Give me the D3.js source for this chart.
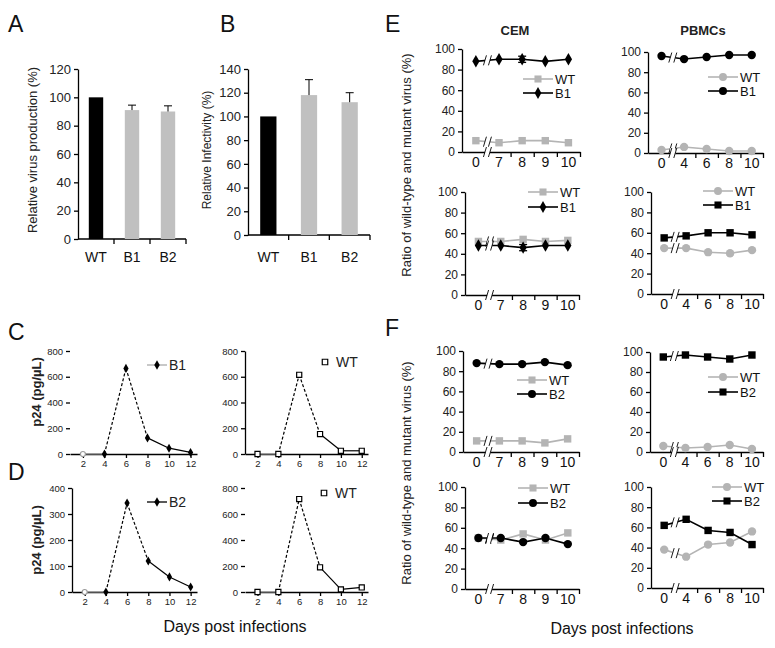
<!DOCTYPE html>
<html>
<head>
<meta charset="utf-8">
<script src="https://cdn.jsdelivr.net/npm/d3@7"></script>
<style>
  body { margin: 0; background: #fff; }
  svg { font-family: "Liberation Sans", Arial, sans-serif; }
</style>
</head>
<body>
<svg id="chart" width="775" height="648"></svg>
<script>
// A / B: Balkendiagramme
const barCats = ["WT", "B1", "B2"];
const prodValues = [100, 91, 90];
const prodErrors = [0, 3.5, 4];
const infValues = [100, 118, 112];
const infErrors = [0, 13, 8];

// C / D: p24-Kinetik
const p24Days = [2, 4, 6, 8, 10, 12];
const p24B1 = [0, 0, 665, 125, 45, 12];
const p24WTc = [0, 0, 615, 155, 25, 25];
const p24B2 = [0, 0, 342, 119, 58, 19];
const p24WTd = [0, 0, 715, 190, 20, 35];

// E / F: Anteil Wildtyp / Mutante
const cemDays = ["0", "7", "8", "9", "10"];
const pbmcDays = ["0", "4", "6", "8", "10"];
const eCemWT = [11, 9, 11, 11, 9];
const eCemB1 = [88, 90, 90, 88, 90];
const eCemB1Err = [0, 0, 3, 0, 0];
const ePbmcWT = [3, 6, 4, 2, 2];
const ePbmcB1 = [96, 93, 95, 97, 97];
const eCemWT2 = [52, 52, 54, 52, 53];
const eCemB1b = [48, 48, 46, 48, 48];
const eCemB1bErr = [0, 0, 3, 0, 0];
const ePbmcWT2 = [45, 45, 41, 40, 43];
const ePbmcB1b = [55, 57, 60, 60, 58];
const fCemWT = [11, 11, 11, 9, 13];
const fCemB2 = [88, 87, 87, 89, 86];
const fPbmcWT = [6, 4, 5, 7, 3];
const fPbmcB2 = [95, 97, 95, 93, 97];
const fCemWT2 = [50, 48, 54, 48, 55];
const fCemB2b = [50, 50, 46, 50, 44];
const fPbmcWT2 = [38, 31, 43, 45, 56];
const fPbmcB2b = [62, 68, 57, 55, 43];

const FONT = '"Liberation Sans", Arial, sans-serif';
const GREY = "#b4b4b4";
const svg = d3.select("#chart");

function text(g, t, x, y, size, opts = {}) {
  const el = g.append("text").attr("x", x).attr("y", y)
    .attr("font-size", size).attr("fill", opts.fill || "#111")
    .attr("text-anchor", opts.anchor || "start")
    .attr("font-weight", opts.bold ? "bold" : "normal").text(t);
  if (opts.rotate) el.attr("transform", `rotate(-90,${x},${y})`);
  return el;
}

function yAxis(g, x0, scale, vals, fs, withLine) {
  const a = g.append("g").attr("transform", `translate(${x0},0)`)
    .call(d3.axisLeft(scale).tickValues(vals).tickSize(4).tickSizeOuter(0).tickPadding(3));
  a.attr("font-family", FONT).attr("font-size", fs);
  a.selectAll(".tick text").attr("fill", "#222");
  a.selectAll("line,path").attr("stroke-width", 1.3);
  if (!withLine) a.select(".domain").remove();
  return a;
}

function marker(g, type, x, y, size, fill, stroke) {
  g.append("path").attr("transform", `translate(${x},${y})`)
    .attr("d", d3.symbol().type(type).size(size)())
    .attr("fill", fill).attr("stroke", stroke || "none").attr("stroke-width", 1.2);
}

// Balkenpanel (A, B)
function barPanel(o) {
  const g = svg.append("g");
  const x = d3.scaleBand().domain(barCats).range([o.x0, o.x1]).paddingInner(0.6).paddingOuter(0.3);
  const y = d3.scaleLinear().domain([0, o.max]).range([o.yBase, o.yTop]);
  yAxis(g, o.x0, y, d3.range(0, o.max + 1, 20), 13, true);

  g.append("line").attr("x1", o.x0).attr("x2", o.x1).attr("y1", o.yBase).attr("y2", o.yBase)
    .attr("stroke", "#000").attr("stroke-width", 1.3);
  g.selectAll("line.xt").data(barCats).join("line").attr("class", "xt")
    .attr("x1", d => x(d) + x.bandwidth() + x.step() * x.paddingInner() / 2)
    .attr("x2", d => x(d) + x.bandwidth() + x.step() * x.paddingInner() / 2)
    .attr("y1", o.yBase).attr("y2", o.yBase + 5).attr("stroke", "#000").attr("stroke-width", 1.3);

  g.selectAll("rect.bar").data(barCats).join("rect").attr("class", "bar")
    .attr("x", d => x(d)).attr("width", x.bandwidth())
    .attr("y", (d, i) => y(o.values[i])).attr("height", (d, i) => o.yBase - y(o.values[i]))
    .attr("fill", (d, i) => i === 0 ? "#000" : "#c0c0c0");

  barCats.forEach((c, i) => {
    if (!o.errors[i]) return;
    const cx = x(c) + x.bandwidth() / 2;
    g.append("line").attr("x1", cx).attr("x2", cx)
      .attr("y1", y(o.values[i])).attr("y2", y(o.values[i] + o.errors[i])).attr("stroke", "#000");
    g.append("line").attr("x1", cx - 4).attr("x2", cx + 4)
      .attr("y1", y(o.values[i] + o.errors[i])).attr("y2", y(o.values[i] + o.errors[i])).attr("stroke", "#000");
  });

  g.selectAll("text.cat").data(barCats).join("text").attr("class", "cat")
    .attr("x", d => x(d) + x.bandwidth() / 2).attr("y", o.labelY)
    .attr("text-anchor", "middle").attr("font-size", 14).attr("fill", "#111").text(d => d);

  text(g, o.title, o.titleX, o.titleY, o.titleSize, { anchor: "middle", rotate: true, fill: "#222" });
}

// p24-Panel (C, D)
function p24Panel(o) {
  const g = svg.append("g");
  const x = d3.scaleLinear().domain([0.8, 12.6]).range([o.x0, o.x1]);
  const y = d3.scaleLinear().domain([0, o.max]).range([o.yBase, o.yTop]);
  yAxis(g, o.x0, y, d3.range(0, o.max + 1, o.max / 4), 9.5, o.yLine);

  const xa = g.append("g").attr("transform", `translate(0,${o.yBase})`)
    .call(d3.axisBottom(x).tickValues(p24Days).tickSize(4).tickSizeOuter(0).tickPadding(2));
  xa.attr("font-family", FONT).attr("font-size", 9.5);
  xa.selectAll(".tick text").attr("fill", "#222");
  xa.selectAll("line,path").attr("stroke-width", 1.3);

  const pts = p24Days.map((d, i) => [x(d), y(o.values[i]), d]);
  for (let i = 0; i < pts.length - 1; i++) {
    const dashed = pts[i][2] >= 4 && pts[i + 1][2] <= 8;
    g.append("line").attr("x1", pts[i][0]).attr("y1", pts[i][1])
      .attr("x2", pts[i + 1][0]).attr("y2", pts[i + 1][1])
      .attr("stroke", i === 0 ? "#888" : "#000").attr("stroke-width", 1.2)
      .attr("stroke-dasharray", dashed ? "3,2" : null);
  }
  pts.forEach((p, i) => {
    if (o.open) marker(g, d3.symbolSquare, p[0], p[1], 26, "#fff", "#000");
    else if (i === 0) marker(g, d3.symbolCircle, p[0], p[1], 20, "#fff", "#999");
    else marker(g, d3.symbolDiamond, p[0], p[1], 24, "#000");
  });

  const L = o.legend;
  if (o.open) {
    marker(g, d3.symbolSquare, L.x, L.y, 30, "#fff", "#000");
    text(g, o.name, L.x + 11, L.y + 5, 14, { fill: "#222" });
  } else {
    g.append("line").attr("x1", L.x - 10).attr("x2", L.x + 10).attr("y1", L.y).attr("y2", L.y)
      .attr("stroke", o.name === "B1" ? "#aaa" : "#000").attr("stroke-width", 1.3);
    marker(g, d3.symbolDiamond, L.x, L.y, 26, "#000");
    text(g, o.name, L.x + 12, L.y + 5, 14, { fill: "#222" });
  }
}

function breakMark(g, x, y) {
  g.append("rect").attr("x", x - 2.5).attr("y", y - 5).attr("width", 5).attr("height", 10).attr("fill", "#fff");
  [-2.5, 2.5].forEach(dx => g.append("line")
    .attr("x1", x + dx - 1.5).attr("y1", y + 5).attr("x2", x + dx + 1.5).attr("y2", y - 5)
    .attr("stroke", "#000").attr("stroke-width", 0.9));
}

// Verhältnis-Panel (E, F)
function ratioPanel(o) {
  const g = svg.append("g");
  const x = d3.scaleLinear().domain([-0.6, 4.5]).range([o.x0, o.x1]);
  const y = d3.scaleLinear().domain([0, 100]).range([o.yBase, o.yTop]);
  yAxis(g, o.x0, y, [0, 20, 40, 60, 80, 100], 12, true);

  const xa = g.append("g").attr("transform", `translate(0,${o.yBase})`)
    .call(d3.axisBottom(x).tickValues([0.5, 1.5, 2.5, 3.5, 4.5]).tickFormat("").tickSize(5).tickSizeOuter(0));
  xa.selectAll("line,path").attr("stroke-width", 1.3);
  g.selectAll("text.day").data(o.days).join("text").attr("class", "day")
    .attr("x", (d, i) => x(i)).attr("y", o.yBase + 15)
    .attr("text-anchor", "middle").attr("font-size", 14).attr("fill", "#111").text(d => d);

  const line = d3.line().x((d, i) => x(i)).y(d => y(d));
  o.series.forEach(s => {
    g.append("path").attr("d", line(s.values)).attr("fill", "none")
      .attr("stroke", s.color).attr("stroke-width", 1.6);
  });
  o.series.forEach(s => breakMark(g, x(0.5), (y(s.values[0]) + y(s.values[1])) / 2));
  breakMark(g, x(0.5), o.yBase);
  o.series.forEach(s => {
    if (s.errors) s.values.forEach((v, i) => {
      if (!s.errors[i]) return;
      [v - s.errors[i], v + s.errors[i]].forEach(e => {
        g.append("line").attr("x1", x(i)).attr("x2", x(i)).attr("y1", y(v)).attr("y2", y(e)).attr("stroke", s.color).attr("stroke-width", 1.3);
        g.append("line").attr("x1", x(i) - 4).attr("x2", x(i) + 4).attr("y1", y(e)).attr("y2", y(e)).attr("stroke", s.color).attr("stroke-width", 1.3);
      });
    });
    s.values.forEach((v, i) => marker(g, s.symbol, x(i), y(v), s.symbol === d3.symbolDiamond ? 45 : 55, s.color));
  });

  o.series.forEach((s, k) => {
    const ly = o.legend.y + k * o.legend.dy;
    g.append("line").attr("x1", o.legend.x).attr("x2", o.legend.x + 30).attr("y1", ly).attr("y2", ly)
      .attr("stroke", s.color).attr("stroke-width", 1.6);
    marker(g, s.symbol, o.legend.x + 15, ly, s.symbol === d3.symbolDiamond ? 40 : 50, s.color);
    text(g, s.name, o.legend.x + 32, ly + 5, 13, { fill: "#111" });
  });
}

// Beschriftungen
text(svg, "A", 8, 32, 23);
text(svg, "B", 220, 32, 23);
text(svg, "C", 8, 340, 23);
text(svg, "D", 8, 480, 23);
text(svg, "E", 385, 32, 23);
text(svg, "F", 385, 336, 23);

barPanel({ x0: 78, x1: 186, yBase: 239, yTop: 69, max: 120, values: prodValues, errors: prodErrors,
  labelY: 262, title: "Relative virus production (%)", titleX: 37, titleY: 150, titleSize: 13 });
barPanel({ x0: 248, x1: 370, yBase: 235, yTop: 69, max: 140, values: infValues, errors: infErrors,
  labelY: 262, title: "Relative Infectivity (%)", titleX: 211, titleY: 150, titleSize: 12 });

p24Panel({ x0: 70, x1: 197, yBase: 454, yTop: 351, max: 800, values: p24B1, yLine: false,
  name: "B1", legend: { x: 157, y: 365 } });
p24Panel({ x0: 245, x1: 368, yBase: 454, yTop: 351, max: 800, values: p24WTc, yLine: true, open: true,
  name: "WT", legend: { x: 325, y: 362 } });
p24Panel({ x0: 72, x1: 197, yBase: 592, yTop: 488, max: 400, values: p24B2, yLine: true,
  name: "B2", legend: { x: 157, y: 502 } });
p24Panel({ x0: 245, x1: 368, yBase: 592, yTop: 488, max: 800, values: p24WTd, yLine: false, open: true,
  name: "WT", legend: { x: 324, y: 493 } });
text(svg, "p24 (pg/\u00b5L)", 41, 392, 13, { anchor: "middle", rotate: true, bold: true, fill: "#222" });
text(svg, "p24 (pg/\u00b5L)", 41, 540, 13, { anchor: "middle", rotate: true, bold: true, fill: "#222" });
text(svg, "Days post infections", 235, 632, 16, { anchor: "middle", fill: "#111" });

text(svg, "CEM", 515, 35, 13, { anchor: "middle", bold: true, fill: "#222" });
text(svg, "PBMCs", 703, 35, 13, { anchor: "middle", bold: true, fill: "#222" });

const wtSq = (v) => ({ name: "WT", values: v, color: GREY, symbol: d3.symbolSquare });
const wtCi = (v) => ({ name: "WT", values: v, color: GREY, symbol: d3.symbolCircle });
const mut = (n, v, sym, err) => ({ name: n, values: v, color: "#000", symbol: sym, errors: err });

ratioPanel({ x0: 462, x1: 580, yBase: 152, yTop: 49, days: cemDays,
  series: [wtSq(eCemWT), mut("B1", eCemB1, d3.symbolDiamond, eCemB1Err)], legend: { x: 523, y: 79, dy: 14 } });
ratioPanel({ x0: 648, x1: 763, yBase: 153, yTop: 52, days: pbmcDays,
  series: [wtCi(ePbmcWT), mut("B1", ePbmcB1, d3.symbolCircle)], legend: { x: 708, y: 77, dy: 14 } });
ratioPanel({ x0: 465, x1: 579, yBase: 295, yTop: 192, days: cemDays,
  series: [wtSq(eCemWT2), mut("B1", eCemB1b, d3.symbolDiamond, eCemB1bErr)], legend: { x: 528, y: 192, dy: 15 } });
ratioPanel({ x0: 651, x1: 763, yBase: 294, yTop: 192, days: pbmcDays,
  series: [wtCi(ePbmcWT2), mut("B1", ePbmcB1b, d3.symbolSquare)], legend: { x: 703, y: 191, dy: 14 } });
ratioPanel({ x0: 463, x1: 579, yBase: 452, yTop: 351, days: cemDays,
  series: [wtSq(fCemWT), mut("B2", fCemB2, d3.symbolCircle)], legend: { x: 517, y: 380, dy: 14 } });
ratioPanel({ x0: 650, x1: 763, yBase: 452, yTop: 352, days: pbmcDays,
  series: [wtCi(fPbmcWT), mut("B2", fPbmcB2, d3.symbolSquare)], legend: { x: 708, y: 377, dy: 15 } });
ratioPanel({ x0: 465, x1: 579, yBase: 589, yTop: 487, days: cemDays,
  series: [wtSq(fCemWT2), mut("B2", fCemB2b, d3.symbolCircle)], legend: { x: 518, y: 488, dy: 15 } });
ratioPanel({ x0: 651, x1: 763, yBase: 588, yTop: 487, days: pbmcDays,
  series: [wtCi(fPbmcWT2), mut("B2", fPbmcB2b, d3.symbolSquare)], legend: { x: 712, y: 487, dy: 14 } });

text(svg, "Ratio of wild-type and mutant virus (%)", 411, 165, 13, { anchor: "middle", rotate: true, fill: "#222" });
text(svg, "Ratio of wild-type and mutant virus (%)", 411, 473, 13, { anchor: "middle", rotate: true, fill: "#222" });
text(svg, "Days post infections", 622, 634, 16, { anchor: "middle", fill: "#111" });
</script>
</body>
</html>
